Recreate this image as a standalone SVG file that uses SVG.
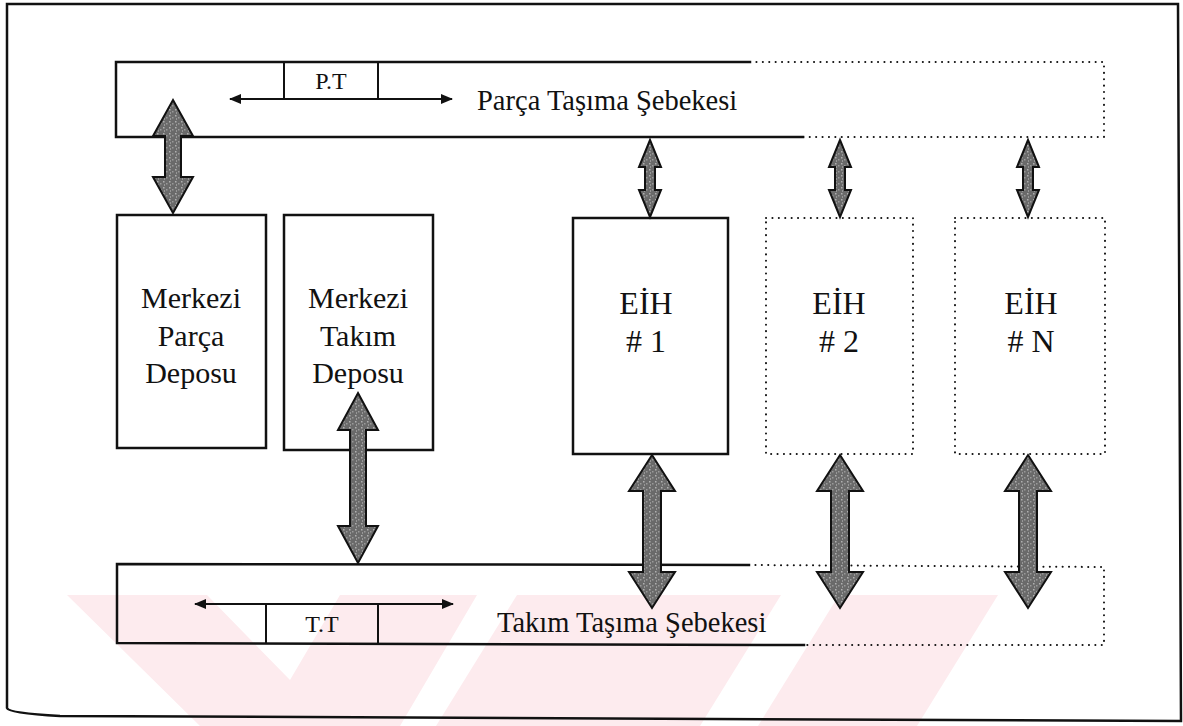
<svg xmlns="http://www.w3.org/2000/svg" width="1183" height="726" viewBox="0 0 1183 726">
<style>
.ln{fill:none;stroke:#111;stroke-width:2.5;stroke-linecap:square}
.dot{fill:none;stroke:#111;stroke-width:2;stroke-linecap:round;stroke-dasharray:0.1 6.3}
.thin{fill:none;stroke:#111;stroke-width:2}
.box{fill:none;stroke:#111;stroke-width:2.5}
.t{font-family:"Liberation Serif","Times New Roman",serif;fill:#111;text-anchor:middle}
.big{font-size:30px}
.eih{font-size:32px}
.net{font-size:28.5px;text-anchor:start}
.sm{font-size:24px}
.arr{fill:#6f6f6f;stroke:#111;stroke-width:2;stroke-linejoin:miter}
.wm{fill:#fdebee}
</style>
<defs>
<marker id="ah" viewBox="0 0 12 10" refX="11" refY="5" markerWidth="12" markerHeight="10" orient="auto-start-reverse" markerUnits="userSpaceOnUse">
<path d="M0,0 L12,5 L0,10 Z" fill="#111"/>
</marker>
<pattern id="spk" width="6" height="6" patternUnits="userSpaceOnUse">
<rect width="6" height="6" fill="#6a6a6a"/>
<rect x="1" y="1" width="1.5" height="1.5" fill="#b0b0b0"/>
<rect x="4" y="3" width="1.5" height="1.5" fill="#9a9a9a"/>
<rect x="2" y="4.5" width="1" height="1" fill="#c4c4c4"/>
</pattern>
</defs>
<rect width="1183" height="726" fill="#fff"/>
<g id="watermark">
<polygon class="wm" points="67,595 207,595 290,680 340,595 477,595 400,726 200,726"/>
<polygon class="wm" points="517,595 781,595 700,726 436,726"/>
<polygon class="wm" points="839,595 998,595 917,726 758,726"/>
</g>
<g id="frame">
<path class="ln" d="M7,4 L1178,4 L1181,721 L60,716 Q8,713 7,708 Z"/>
</g>
<g id="parca-tasima-sebekesi">
<path class="ln" d="M750,62 L116,62 L116,137 L803,137"/>
<path class="dot" d="M750,62 L1104,62 L1104,137 L803,137"/>
<text class="t net" x="477" y="110">Parça Taşıma Şebekesi</text>
</g>
<g id="pt">
<path class="thin" d="M284,62 L284,99 M378,62 L378,99"/>
<text class="t sm" x="331" y="89">P.T</text>
</g>
<g id="takim-tasima-sebekesi">
<path class="ln" d="M749,565 L117,564 L117,643 L804,645"/>
<path class="dot" d="M749,565 L1104,567 L1104,645 L804,645"/>
<text class="t net" x="497" y="632">Takım Taşıma Şebekesi</text>
</g>
<g id="tt">
<path class="thin" d="M266,604 L266,643 M378,604 L378,643"/>
<text class="t sm" x="322" y="632">T.T</text>
</g>
<g id="merkezi-parca-deposu">
<rect class="box" x="117" y="215" width="149" height="233"/>
<text class="t big" x="191" y="308">Merkezi</text>
<text class="t big" x="191" y="346">Parça</text>
<text class="t big" x="191" y="383">Deposu</text>
</g>
<g id="merkezi-takim-deposu">
<rect class="box" x="284" y="215" width="149" height="235"/>
<text class="t big" x="358" y="308">Merkezi</text>
<text class="t big" x="358" y="346">Takım</text>
<text class="t big" x="358" y="383">Deposu</text>
</g>
<g id="eih-1">
<rect class="box" x="573" y="218" width="155" height="236"/>
<text class="t eih" x="646" y="314">EİH</text>
<text class="t eih" x="646" y="352"># 1</text>
</g>
<g id="eih-2">
<path class="dot" d="M766,218 L913,218 L913,454 L766,454 Z"/>
<text class="t eih" x="839" y="314">EİH</text>
<text class="t eih" x="839" y="352"># 2</text>
</g>
<g id="eih-n">
<path class="dot" d="M955,218 L1105,218 L1105,454 L955,454 Z"/>
<text class="t eih" x="1031" y="314">EİH</text>
<text class="t eih" x="1031" y="352"># N</text>
</g>
<g id="connectors">
<line class="thin" x1="230" y1="99" x2="452" y2="99" marker-start="url(#ah)" marker-end="url(#ah)"/>
<line class="thin" x1="195" y1="604" x2="453" y2="604" marker-start="url(#ah)" marker-end="url(#ah)"/>
<polygon class="arr" style="fill:url(#spk)" points="173,100 193,136 181,136 181,177 193,177 173,213 153,177 165,177 165,136 153,136"/>
<polygon class="arr" style="fill:url(#spk)" points="358,393 378,430 366,430 366,526 378,526 358,563 338,526 350,526 350,430 338,430"/>
<polygon class="arr" style="fill:url(#spk)" points="650,140 661,167 655,167 655,190 661,190 650,217 639,190 645,190 645,167 639,167"/>
<polygon class="arr" style="fill:url(#spk)" points="840,140 851,167 845,167 845,190 851,190 840,217 829,190 835,190 835,167 829,167"/>
<polygon class="arr" style="fill:url(#spk)" points="1028,140 1039,167 1033,167 1033,190 1039,190 1028,217 1017,190 1023,190 1023,167 1017,167"/>
<polygon class="arr" style="fill:url(#spk)" points="652,455 675,491 661,491 661,572 675,572 652,608 629,572 643,572 643,491 629,491"/>
<polygon class="arr" style="fill:url(#spk)" points="840,455 863,491 849,491 849,572 863,572 840,608 817,572 831,572 831,491 817,491"/>
<polygon class="arr" style="fill:url(#spk)" points="1028,455 1051,491 1037,491 1037,572 1051,572 1028,608 1005,572 1019,572 1019,491 1005,491"/>
</g>
</svg>
